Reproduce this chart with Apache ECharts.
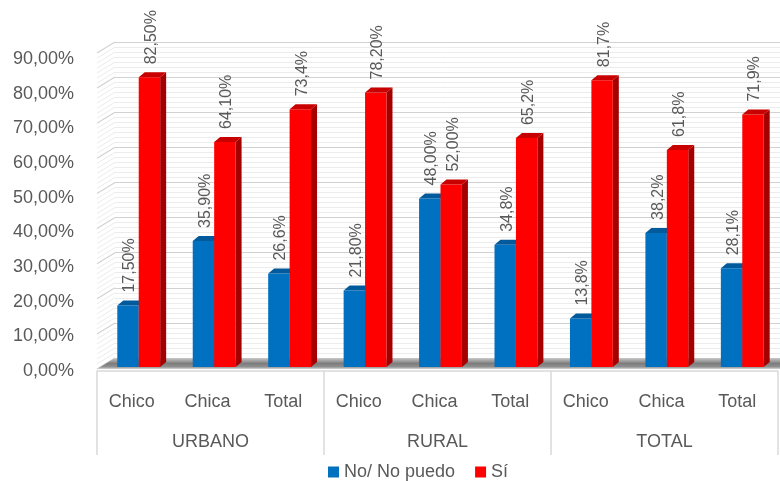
<!DOCTYPE html>
<html>
<head>
<meta charset="utf-8">
<script src="https://cdn.jsdelivr.net/npm/echarts@6/dist/echarts.min.js"></script>
<style>
  html, body { margin: 0; padding: 0; background: #ffffff; }
  #chart { width: 780px; height: 481px; }
</style>
</head>
<body>
<div id="chart"></div>
<script>
// Categories (inner level) and groups (outer level)
const categories = ['Chico', 'Chica', 'Total', 'Chico', 'Chica', 'Total', 'Chico', 'Chica', 'Total'];
const groups = ['URBANO', 'RURAL', 'TOTAL'];

// Percentages per category
const noValues = [17.5, 35.9, 26.6, 21.8, 48.0, 34.8, 13.8, 38.2, 28.1];
const siValues = [82.5, 64.1, 73.4, 78.2, 52.0, 65.2, 81.7, 61.8, 71.9];

// Decimals shown in each data label
const noDecimals = [2, 2, 1, 2, 2, 1, 1, 1, 1];
const siDecimals = [2, 2, 1, 2, 2, 1, 1, 1, 1];

// Value axis
const yMin = 0;
const yMax = 90;
const yStep = 10;

const seriesNames = ['No/ No puedo', 'Sí'];

const FONT = 'Liberation Sans';
const TEXT = '#595959';
const DEPTH = [6, -5];          // bar extrusion
const WALL_SHIFT = [-18, 11];   // back wall -> front edge offset

const palette = [
  { front: '#0070c0', top: '#005a9b', side: '#004f88' },
  { front: '#ff0000', top: '#c80000', side: '#a40000' }
];

function fmt(v, d) {
  return v.toFixed(d).replace('.', ',') + '%';
}

function makeRender(which, decimals) {
  const col = palette[which];
  return function (params, api) {
    const i = api.value(0);
    const v = api.value(1);
    const topPt = api.coord([i, v]);
    const basePt = api.coord([i, 0]);
    const catW = api.size([1, 0])[0];
    const w = catW * 0.284;
    const x0 = which === 0 ? topPt[0] - w : topPt[0];
    const yt = topPt[1];
    const yb = basePt[1];
    const dx = DEPTH[0], dy = DEPTH[1];
    const children = [
      {
        type: 'polygon',
        shape: { points: [[x0 + w, yt], [x0 + w + dx, yt + dy], [x0 + w + dx, yb + dy], [x0 + w, yb]] },
        style: { fill: col.side }
      },
      {
        type: 'rect',
        shape: { x: x0, y: yt, width: w, height: yb - yt },
        style: { fill: col.front }
      },
      {
        type: 'polygon',
        shape: { points: [[x0, yt], [x0 + w, yt], [x0 + w + dx, yt + dy], [x0 + dx, yt + dy]] },
        style: { fill: col.top }
      },
      {
        type: 'text',
        x: x0 + w / 2 + 2,
        y: yt - 13,
        rotation: Math.PI / 2,
        style: {
          text: fmt(v, decimals[i]),
          fill: TEXT,
          font: '16px "' + FONT + '"',
          align: 'left',
          verticalAlign: 'middle'
        },
        z2: 10
      }
    ];
    return { type: 'group', children: children };
  };
}

const chart = echarts.init(document.getElementById('chart'), null, { renderer: 'canvas' });

const option = {
  animation: false,
  backgroundColor: '#ffffff',
  textStyle: { fontFamily: FONT },
  grid: [
    { left: 101, width: 681, top: 51, bottom: 114 },   // bars
    { left: 97, right: 2, top: 59, bottom: 110 },      // labels / category frame
    { left: 115, right: 0, top: 42, bottom: 123 }      // back wall
  ],
  xAxis: [
    { gridIndex: 0, type: 'category', data: categories, show: false },
    {
      gridIndex: 1, type: 'category', data: categories, position: 'bottom', offset: 0,
      axisLine: { show: false }, axisTick: { show: false },
      axisLabel: { color: TEXT, fontSize: 18, fontFamily: FONT, margin: 22, padding: [0, 6, 0, 0] }
    },
    {
      gridIndex: 1, type: 'category', data: groups, position: 'bottom', offset: 0,
      axisLine: { show: true, lineStyle: { color: '#d9d9d9', width: 1.5 } },
      axisTick: { show: true, length: 84, lineStyle: { color: '#d9d9d9', width: 1.5 } },
      axisLabel: { color: TEXT, fontSize: 18, fontFamily: FONT, margin: 62 }
    },
    { gridIndex: 2, type: 'value', min: 0, max: 1, show: false }
  ],
  yAxis: [
    { gridIndex: 0, type: 'value', min: yMin, max: yMax, interval: yStep, show: false },
    {
      gridIndex: 1, type: 'value', min: yMin, max: yMax, interval: yStep,
      axisLine: { show: false }, axisTick: { show: false }, splitLine: { show: false },
      axisLabel: {
        color: TEXT, fontSize: 18, fontFamily: FONT, margin: 23,
        formatter: function (v) { return v.toFixed(2).replace('.', ',') + '%'; }
      }
    },
    {
      gridIndex: 2, type: 'value', min: yMin, max: yMax, interval: yStep,
      axisLine: { show: false }, axisTick: { show: false }, axisLabel: { show: false },
      splitLine: { show: true, lineStyle: { color: '#d2d2d2', width: 1.2 } },
      minorTick: { show: false, splitNumber: 7 },
      minorSplitLine: { show: true, lineStyle: { color: '#ececec', width: 1 } }
    }
  ],
  legend: {
    left: 323, top: 458,
    itemWidth: 11, itemHeight: 11, itemGap: 20,
    textStyle: { color: TEXT, fontSize: 18, fontFamily: FONT },
    data: [
      { name: seriesNames[0], icon: 'rect' },
      { name: seriesNames[1], icon: 'rect' }
    ]
  },
  series: [
    {
      name: seriesNames[0], type: 'custom', xAxisIndex: 0, yAxisIndex: 0,
      itemStyle: { color: palette[0].front },
      renderItem: makeRender(0, noDecimals),
      encode: { x: 0, y: 1 },
      data: noValues.map(function (v, i) { return [i, v]; }),
      z: 5
    },
    {
      name: seriesNames[1], type: 'custom', xAxisIndex: 0, yAxisIndex: 0,
      itemStyle: { color: palette[1].front },
      renderItem: makeRender(1, siDecimals),
      encode: { x: 0, y: 1 },
      data: siValues.map(function (v, i) { return [i, v]; }),
      z: 6
    }
  ]
};

chart.setOption(option);

// Left wall and floor, placed from the back-wall axes
const wallY = function (v) { return chart.convertToPixel({ yAxisIndex: 2 }, v); };
const wallL = chart.convertToPixel({ xAxisIndex: 3 }, 0);
const wallR = chart.convertToPixel({ xAxisIndex: 3 }, 1);
const graphics = [];

const minorCount = 7;
for (let k = 0; k <= (yMax - yMin) / yStep * minorCount; k++) {
  const v = yMin + k * yStep / minorCount;
  const major = k % minorCount === 0;
  const y = wallY(v);
  graphics.push({
    type: 'line', z: 1, silent: true,
    shape: { x1: wallL + WALL_SHIFT[0], y1: y + WALL_SHIFT[1], x2: wallL, y2: y },
    style: { stroke: major ? '#d2d2d2' : '#ececec', lineWidth: major ? 1.2 : 1 }
  });
}

const y0 = wallY(yMin);
graphics.push({
  type: 'polygon', z: 3, silent: true,
  shape: { points: [
    [wallL, y0], [wallR, y0],
    [wallR, y0 + WALL_SHIFT[1]], [wallL + WALL_SHIFT[0], y0 + WALL_SHIFT[1]]
  ] },
  style: {
    fill: new echarts.graphic.LinearGradient(0, 0, 0, 1, [
      { offset: 0, color: '#c9c9c9' },
      { offset: 0.5, color: '#7d7d7d' },
      { offset: 0.8, color: '#8f8f8f' },
      { offset: 1, color: '#d6d6d6' }
    ])
  }
});

chart.setOption({ graphic: graphics });
</script>
</body>
</html>
